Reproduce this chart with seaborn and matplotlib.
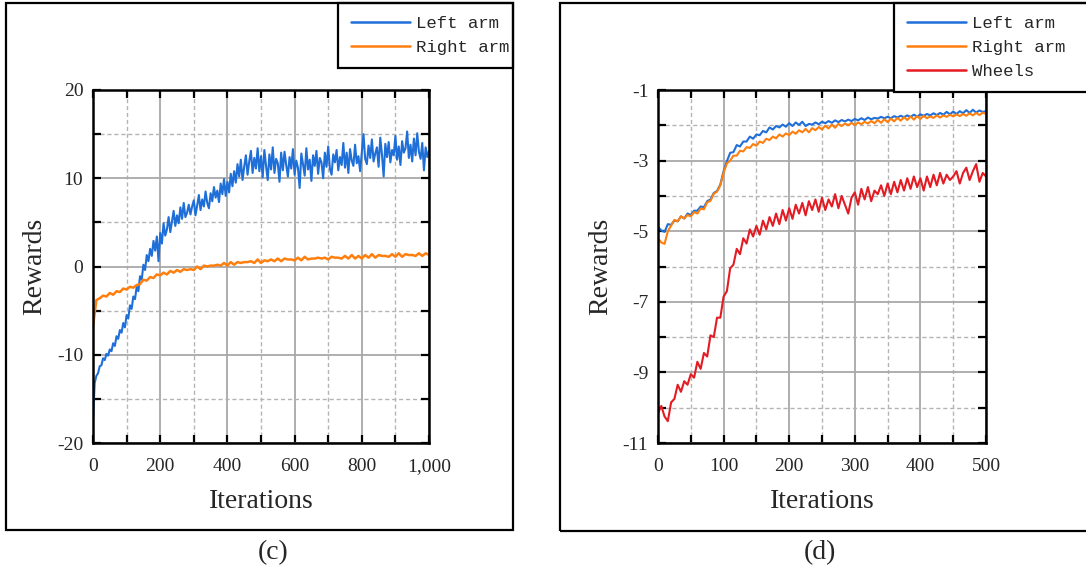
import numpy as np
import matplotlib.pyplot as plt
import seaborn as sns
from matplotlib.patches import Rectangle
from matplotlib.ticker import MultipleLocator

# ===============================
# DATOS
# ===============================

# panel (c): 1000 iteraciones
c_left_iter = np.arange(0, 1001, 5)
c_left_arm = [
    -17.5, -13.2, -12.4, -12.1, -11.3, -11.2, -10.4, -10.6, -9.9, -10.1,
    -9.4, -9.6, -8.7, -9.0, -7.9, -8.2, -7.2, -7.5, -6.4, -6.9,
    -5.5, -5.9, -4.4, -4.8, -3.4, -3.7, -2.3, -2.8, -1.1, -1.5,
    0.2, -0.4, 1.3, 0.6, 2.0, 1.2, 2.9, 1.8, 3.4, 0.6,
    3.8, 2.6, 4.9, 3.5, 4.2, 5.6, 3.9, 5.1, 6.3, 4.6,
    5.8, 4.9, 6.7, 5.4, 7.2, 5.6, 6.1, 7.0, 5.9, 6.8,
    7.5, 5.8, 6.9, 8.1, 6.4, 7.6, 6.8, 8.5, 7.2, 6.6,
    8.3, 7.4, 9.0, 7.8, 8.6, 7.3, 9.4, 8.2, 9.9, 8.0,
    9.6, 8.4, 10.5, 9.1, 10.8, 9.5, 11.6, 10.2, 12.1, 9.8,
    11.3, 12.6, 10.4, 11.9, 13.1, 10.6, 12.3, 11.1, 13.4, 10.8,
    12.5, 10.1, 13.2, 11.4, 9.8, 12.7, 11.0, 13.5, 10.6, 12.2,
    11.7, 9.6, 12.9, 10.9, 13.0, 11.5, 10.2, 12.4, 11.1, 13.3,
    10.4, 12.0, 11.2, 8.9, 12.8, 11.6, 10.3, 13.4, 11.0, 12.1,
    9.7, 12.6, 11.4, 13.1, 10.5, 12.3, 11.8, 10.0, 12.9, 11.3,
    13.6, 11.1, 10.4, 12.7, 11.8, 13.2, 10.9, 12.4, 11.5, 14.0,
    11.2, 12.9, 10.6, 13.3, 12.0, 11.4, 13.8, 11.7, 12.5, 10.8,
    12.9, 15.0, 12.2, 11.6, 13.7, 12.3, 14.4, 11.9, 12.8, 13.5,
    11.3, 14.6, 12.7, 10.2, 13.9, 12.4, 14.1, 11.8, 13.2, 12.6,
    14.8, 12.1, 13.6, 11.5, 14.2, 12.9, 13.4, 15.3, 12.3, 13.8,
    11.9, 14.5, 12.6, 15.1, 13.0, 12.2, 14.0, 10.9, 13.5, 12.4,
    13.1,
]

c_right_iter = np.arange(0, 1001, 10)
c_right_arm = [
    -6.8, -3.8, -3.6, -3.3, -3.4, -3.0, -3.2, -2.8, -2.9, -2.5,
    -2.6, -2.3, -2.4, -2.1, -2.0, -1.5, -1.6, -1.2, -1.3, -0.9,
    -1.0, -0.7, -0.9, -0.5, -0.7, -0.4, -0.6, -0.3, -0.4, -0.3,
    -0.4, 0.0, -0.3, 0.1, 0.0, 0.1, 0.1, 0.2, 0.1, 0.4,
    0.1, 0.5, 0.2, 0.5, 0.4, 0.5, 0.5, 0.6, 0.4, 0.8,
    0.4, 0.7, 0.6, 0.8, 0.6, 0.9, 0.6, 0.9, 0.8, 0.8,
    0.7, 1.0, 0.7, 1.1, 0.8, 0.9, 0.9, 1.0, 0.9, 1.0,
    0.8, 1.1, 1.0, 1.0, 0.9, 1.2, 0.9, 1.3, 0.9, 1.2,
    0.9, 1.3, 1.0, 1.4, 1.0, 1.3, 1.2, 1.2, 1.1, 1.4,
    1.1, 1.5, 1.1, 1.4, 1.3, 1.3, 1.2, 1.5, 1.2, 1.5,
    1.3,
]

# panel (d): 500 iteraciones
d_iter = np.arange(0, 501, 5)
d_left_arm = [
    -4.88, -4.98, -5.02, -4.80, -4.82, -4.70, -4.72, -4.58, -4.64, -4.50,
    -4.54, -4.42, -4.42, -4.30, -4.32, -4.15, -4.10, -3.92, -3.86, -3.68,
    -3.30, -3.02, -2.78, -2.76, -2.56, -2.60, -2.46, -2.46, -2.32, -2.38,
    -2.26, -2.28, -2.16, -2.20, -2.06, -2.12, -2.02, -2.06, -1.98, -2.04,
    -1.94, -2.02, -1.92, -1.99, -1.90, -2.02, -1.96, -1.98, -1.92, -1.97,
    -1.90, -1.94, -1.88, -1.93, -1.86, -1.91, -1.85, -1.89, -1.84, -1.88,
    -1.82, -1.86, -1.80, -1.85, -1.78, -1.83, -1.79, -1.81, -1.76, -1.80,
    -1.76, -1.80, -1.74, -1.78, -1.73, -1.77, -1.72, -1.76, -1.70, -1.75,
    -1.69, -1.73, -1.68, -1.72, -1.66, -1.71, -1.65, -1.70, -1.62, -1.69,
    -1.61, -1.68, -1.60, -1.66, -1.57, -1.65, -1.56, -1.64, -1.58, -1.62,
    -1.60,
]
d_right_arm = [
    -5.20, -5.32, -5.36, -5.00, -4.84, -4.68, -4.72, -4.58, -4.64, -4.54,
    -4.58, -4.46, -4.50, -4.36, -4.38, -4.18, -4.14, -3.94, -3.88, -3.70,
    -3.34, -3.08, -3.00, -2.86, -2.86, -2.72, -2.74, -2.62, -2.64, -2.53,
    -2.58, -2.46, -2.50, -2.38, -2.42, -2.32, -2.37, -2.26, -2.32, -2.23,
    -2.28, -2.18, -2.24, -2.14, -2.20, -2.10, -2.20, -2.08, -2.14, -2.05,
    -2.12, -2.01, -2.09, -1.98, -2.07, -1.96, -2.02, -1.95, -2.00, -1.93,
    -1.99, -1.92, -1.97, -1.90, -1.95, -1.88, -1.94, -1.85, -1.93, -1.83,
    -1.91, -1.81, -1.89, -1.79, -1.87, -1.77, -1.85, -1.75, -1.84, -1.74,
    -1.82, -1.73, -1.80, -1.75, -1.79, -1.72, -1.78, -1.72, -1.76, -1.70,
    -1.75, -1.69, -1.74, -1.68, -1.73, -1.66, -1.72, -1.65, -1.71, -1.64,
    -1.68,
]
d_wheels = [
    -10.15, -9.95, -10.25, -10.38, -9.85, -9.75, -9.35, -9.55, -9.25, -9.35,
    -9.05, -9.15, -8.70, -8.90, -8.45, -8.55, -7.95, -8.00, -7.45, -7.45,
    -6.85, -6.70, -6.05, -5.95, -5.50, -5.65, -5.20, -5.35, -4.95, -5.15,
    -4.85, -5.10, -4.70, -4.95, -4.60, -4.85, -4.50, -4.80, -4.40, -4.70,
    -4.35, -4.65, -4.25, -4.50, -4.20, -4.55, -4.15, -4.40, -4.10, -4.45,
    -4.05, -4.40, -4.10, -4.30, -3.95, -4.35, -4.00, -4.25, -4.50, -4.05,
    -3.90, -4.25, -3.80, -4.10, -3.75, -4.15, -3.85, -3.95, -3.70, -4.00,
    -3.65, -3.95, -3.60, -3.90, -3.55, -3.85, -3.50, -3.80, -3.45, -3.75,
    -3.50, -3.85, -3.45, -3.75, -3.40, -3.70, -3.35, -3.65, -3.40, -3.55,
    -3.45, -3.30, -3.65, -3.35, -3.20, -3.55, -3.30, -3.10, -3.60, -3.35,
    -3.45,
]

# ejes y etiquetas
c_xticks = [0, 200, 400, 600, 800, 1000]
c_xticklabels = ['0', '200', '400', '600', '800', '1,000']
c_yticks = [-20, -10, 0, 10, 20]
d_xticks = [0, 100, 200, 300, 400, 500]
d_yticks = [-11, -9, -7, -5, -3, -1]

azul = '#1f6fd8'
naranja = '#ff7f0e'
rojo = '#e31b23'

# ===============================
# FIGURA
# ===============================

sns.set_style("ticks")
plt.rcParams['font.family'] = ['Liberation Serif', 'DejaVu Serif']
plt.rcParams['axes.unicode_minus'] = False

W, H = 1086, 576
fig = plt.figure(figsize=(W / 100, H / 100), dpi=100)


def fx(px):
    return px / W


def fy(py):
    return 1 - py / H


# marcos exteriores
fig.add_artist(Rectangle((fx(6), fy(530)), fx(513 - 6), (530 - 3) / H,
                         transform=fig.transFigure, fill=False, lw=1.6, ec='black'))
fig.add_artist(Rectangle((fx(560), fy(531)), fx(1095 - 560), (531 - 3) / H,
                         transform=fig.transFigure, fill=False, lw=1.6, ec='black'))

ax_c = fig.add_axes([fx(93), fy(443), fx(429 - 93), (443 - 90) / H])
ax_d = fig.add_axes([fx(658), fy(443), fx(986 - 658), (443 - 90) / H])

sns.lineplot(x=c_left_iter, y=c_left_arm, ax=ax_c, color=azul, lw=1.5, label='Left arm')
sns.lineplot(x=c_right_iter, y=c_right_arm, ax=ax_c, color=naranja, lw=1.8, label='Right arm')

sns.lineplot(x=d_iter, y=d_left_arm, ax=ax_d, color=azul, lw=1.5, label='Left arm')
sns.lineplot(x=d_iter, y=d_right_arm, ax=ax_d, color=naranja, lw=1.5, label='Right arm')
sns.lineplot(x=d_iter, y=d_wheels, ax=ax_d, color=rojo, lw=1.5, label='Wheels')


def estilo(ax, xmin, xmax, ymin, ymax, xminor, yminor):
    ax.set_xlim(xmin, xmax)
    ax.set_ylim(ymin, ymax)
    ax.xaxis.set_minor_locator(MultipleLocator(xminor))
    ax.yaxis.set_minor_locator(MultipleLocator(yminor))
    ax.grid(which='major', color='#a8a8a8', lw=1.3, ls='-')
    ax.grid(which='minor', color='#b4b4b4', lw=1.0, ls=(0, (3, 2)))
    ax.set_axisbelow(True)
    ax.tick_params(which='both', direction='in', top=True, right=True,
                   length=6, width=1.6, color='black', labelsize=14)
    ax.tick_params(axis='x', pad=11)
    ax.tick_params(axis='y', pad=7)
    for sp in ax.spines.values():
        sp.set_linewidth(1.8)
        sp.set_color('black')
    ax.set_xlabel('Iterations', fontsize=20, labelpad=10)
    ax.set_ylabel('Rewards', fontsize=20, labelpad=7)


estilo(ax_c, 0, 1000, -20, 20, 100, 5)
ax_c.set_xticks(c_xticks)
ax_c.set_xticklabels(c_xticklabels)
ax_c.set_yticks(c_yticks)

estilo(ax_d, 0, 500, -11, -1, 50, 1)
ax_d.set_xticks(d_xticks)
ax_d.set_yticks(d_yticks)

# leyendas (marco pegado a la esquina superior derecha de cada panel)
for ax, caja in [(ax_c, (fx(338), fy(67), fx(513 - 338), 64 / H)),
                 (ax_d, (fx(894), fy(90), fx(1095 - 894), 87 / H))]:
    leg = ax.legend(loc='upper left', bbox_to_anchor=caja, mode='expand',
                    bbox_transform=fig.transFigure, borderaxespad=0,
                    prop={'family': 'Liberation Mono', 'size': 12.5},
                    frameon=True, fancybox=False, edgecolor='black',
                    framealpha=1, handlelength=3.4, handletextpad=0.35,
                    labelspacing=0.5, borderpad=0.75)
    leg.get_frame().set_linewidth(1.6)
    for l in leg.get_lines():
        l.set_linewidth(1.8)

fig.text(fx(273), fy(553), '(c)', ha='center', va='center', fontsize=20)
fig.text(fx(820), fy(553), '(d)', ha='center', va='center', fontsize=20)

plt.savefig('out.png', dpi=100)
